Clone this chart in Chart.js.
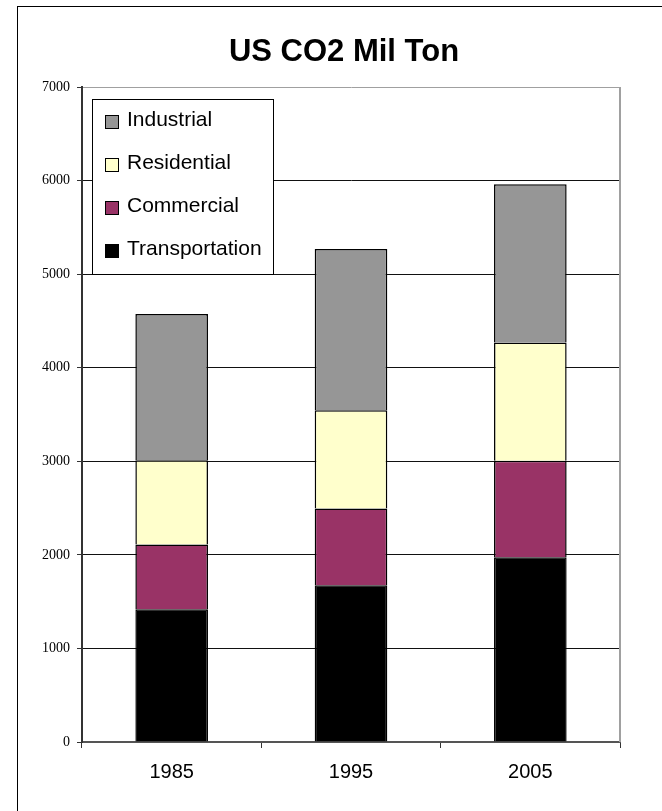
<!DOCTYPE html>
<html>
<head>
<meta charset="utf-8">
<title>US CO2 Mil Ton</title>
<script src="https://cdn.jsdelivr.net/npm/chart.js@4.4.0/dist/chart.umd.min.js"></script>
<style>
    html, body { margin: 0; padding: 0; background: #fff; }
    canvas { display: block; }
</style>
</head>
<body>
<canvas id="co2-chart" width="662" height="811"></canvas>
<script>
const chartTitle = 'US CO2 Mil Ton'
const years = ['1985', '1995', '2005']
const transportation = [1420, 1675, 1975]
const commercial = [690, 820, 1030]
const residential = [900, 1050, 1265]
const industrial = [1565, 1725, 1690]
const yMin = 0
const yMax = 7000
const yStep = 1000

// white page, frame round the whole chart, title and a grey right edge on the plot
const framePlugin = {
    id: 'frame',
    beforeDraw(chart) {
        const ctx = chart.ctx
        ctx.save()
        ctx.fillStyle = '#fff'
        ctx.fillRect(0, 0, chart.width, chart.height)
        ctx.strokeStyle = '#000'
        ctx.lineWidth = 1
        ctx.strokeRect(17.5, 6.5, 800, 900)
        ctx.fillStyle = '#000'
        ctx.font = 'bold 31px "Liberation Sans", Arial, sans-serif'
        ctx.textAlign = 'center'
        ctx.textBaseline = 'middle'
        ctx.fillText(chartTitle, 344, 52)
        ctx.restore()
    },
    beforeDatasetsDraw(chart) {
        const a = chart.chartArea
        const ctx = chart.ctx
        ctx.save()
        ctx.strokeStyle = '#a0a0a0'
        ctx.lineWidth = 2
        ctx.beginPath()
        ctx.moveTo(a.right, a.top)
        ctx.lineTo(a.right, a.bottom)
        ctx.stroke()
        ctx.restore()
    }
}

// legend box inside the plot, top series first
const boxLegend = {
    id: 'boxLegend',
    afterDraw(chart) {
        const ctx = chart.ctx
        const sets = chart.data.datasets.slice().reverse()
        const left = 92, top = 99, w = 181, h = 175
        ctx.save()
        ctx.fillStyle = '#fff'
        ctx.fillRect(left, top, w, h)
        ctx.strokeStyle = '#000'
        ctx.lineWidth = 1
        ctx.strokeRect(left + 0.5, top + 0.5, w, h)
        ctx.font = '21px "Liberation Sans", Arial, sans-serif'
        ctx.textBaseline = 'middle'
        ctx.textAlign = 'left'
        sets.forEach((ds, i) => {
            const y = top + 21 + i * 43
            ctx.fillStyle = ds.backgroundColor
            ctx.fillRect(105, y - 5, 14, 14)
            ctx.strokeStyle = '#000'
            ctx.strokeRect(105.5, y - 4.5, 13, 13)
            ctx.fillStyle = '#000'
            ctx.fillText(ds.label, 127, y)
        })
        ctx.restore()
    }
}

function makeSet(label, values, color) {
    return {
        label: label,
        data: values,
        backgroundColor: color,
        borderColor: '#000',
        borderWidth: 1.5,
        barPercentage: 0.405,
        categoryPercentage: 1
    }
}

const ctx = document.getElementById('co2-chart')
const myChart = new Chart(ctx, {
    type: 'bar',
    data: {
        labels: years,
        datasets: [
            makeSet('Transportation', transportation, '#000000'),
            makeSet('Commercial', commercial, '#993366'),
            makeSet('Residential', residential, '#ffffcc'),
            makeSet('Industrial', industrial, '#969696')
        ]
    },
    options: {
        responsive: false,
        animation: false,
        devicePixelRatio: 1,
        layout: {
            padding: { left: 0, right: 42, top: 87, bottom: 0 }
        },
        scales: {
            x: {
                stacked: true,
                grid: {
                    offset: true,
                    drawOnChartArea: false,
                    tickLength: 6,
                    color: '#333'
                },
                border: { color: '#555', width: 2 },
                ticks: {
                    color: '#000',
                    padding: 12,
                    font: { family: '"Liberation Sans", Arial, sans-serif', size: 20 }
                },
                afterFit(scale) { scale.height = 69 }
            },
            y: {
                stacked: true,
                min: yMin,
                max: yMax,
                ticks: {
                    stepSize: yStep,
                    color: '#000',
                    padding: 7,
                    font: { family: '"Liberation Serif", "Times New Roman", serif', size: 14 },
                    callback: v => v
                },
                grid: {
                    color: c => (c.tick && c.tick.value === yMax) ? '#a0a0a0' : '#111',
                    tickColor: '#333',
                    tickLength: 5
                },
                border: { color: '#333', width: 2 },
                afterFit(scale) { scale.width = 82 }
            }
        },
        plugins: {
            legend: { display: false },
            tooltip: { enabled: false },
            title: { display: false }
        }
    },
    plugins: [framePlugin, boxLegend]
})
</script>
</body>
</html>
